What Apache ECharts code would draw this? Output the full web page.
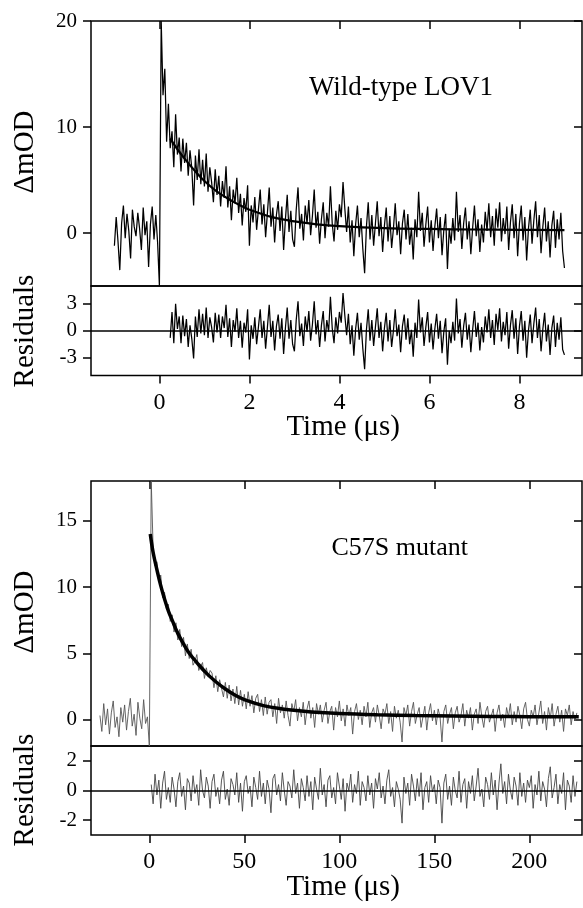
<!DOCTYPE html>
<html>
<head>
<meta charset="utf-8">
<script src="https://cdn.jsdelivr.net/npm/echarts@6.0.0/dist/echarts.min.js"></script>
<style>
  html, body { margin: 0; padding: 0; background: #fff; }
  #chart { width: 583px; height: 908px; }
</style>
</head>
<body>
<div id="chart"></div>
<script>
// ---- Wild-type LOV1: transient absorbance, sampled every 0.04 us from -1 us
const wtStart = -1.0;
const wtStep = 0.04;
const wtSignal = [
  -1.2, 1.5, -0.8, -3.5, 0.9, 2.6, -0.5, 1.8, 0.2, -2.4, 2.2, 0.6, -0.3, 1.9, 0.4, -1.6, 2.4, -0.2, 1.1, -3.2, 0.8, 2.5, -0.6, 1.7, -0.9,
  -5.0, 20.0, 13.0, 15.5, 8.6, 12.2, 8.0, 9.6, 6.2, 11.2, 7.4, 9.0, 5.8, 8.9, 6.6, 8.5, 5.4, 7.8, 6.1, 2.6, 7.3, 5.0, 7.9, 4.6, 6.9,
  4.4, 7.5, 3.9, 6.2, 4.8, 2.9, 6.0, 3.6, 5.4, 2.5, 4.9, 3.3, 6.3, 2.4, 4.4, 1.2, 4.1, 2.8, 5.2, 1.9, 3.7, 0.7, 3.3, 2.0, 4.5,
  -1.2, 2.6, 1.0, 3.4, 0.3, 2.2, 4.1, 0.8, 2.7, -0.4, 1.9, 4.3, 0.6, 2.4, -0.9, 1.7, 3.0, 0.2, 2.5, -1.6, 1.3, 3.6, 0.1, 2.1, -0.6,
  -1.3, 2.2, 4.3, 0.4, 1.8, -0.7, 2.6, 0.9, 3.1, -0.2, 1.6, 4.1, 0.5, 2.0, -1.0, 1.3, 2.9, -0.5, 1.9, 0.6, 4.4, 0.9, -0.8, 2.1, 0.3,
  2.7, 1.5, 4.8, 2.3, 0.1, 2.5, -0.9, 1.2, -2.2, 0.8, 2.6, -0.4, 1.4, -1.5, -3.8, 0.6, 2.9, -0.6, 1.7, -1.2, 0.9, 3.0, -0.3, 1.5, -1.8,
  0.7, 2.4, -0.8, 1.6, -1.4, 0.4, 2.8, -0.2, 1.1, -2.0, 0.9, 2.2, -0.6, 1.8, -1.1, 0.5, -2.5, 1.3, -0.4, 3.9, 0.2, 1.9, -1.3, 0.8, 2.5,
  -0.9, 1.2, -1.7, 0.6, 2.3, -0.5, 1.5, -2.1, 0.3, 1.8, -3.4, 0.4, -1.0, 1.4, -0.7, 3.9, 0.1, 1.7, -1.5, 0.9, 2.4, -0.6, 1.1, -2.0, 0.5,
  2.6, -0.3, 1.3, -1.8, 0.8, -0.9, 2.0, 0.2, 2.8, -0.4, 1.6, -1.2, 2.3, 0.5, 2.9, -0.8, 1.4, -0.1, 2.5, -1.6, 1.0, 2.7, -0.5, 1.8, -2.2,
  0.9, 2.6, -0.7, 1.5, -2.6, 0.4, 2.2, -1.0, 1.2, 3.0, -0.4, 1.7, -1.9, 0.6, 2.4, -0.8, 1.1, -2.3, 0.7, 2.1, -1.4, 1.3, -0.6, 1.9, -1.7, -3.3
];
// fitted decay (read at these times)
const wtFitT = [0.24, 0.4, 0.6, 0.8, 1.0, 1.25, 1.5, 1.75, 2.0, 2.5, 3.0, 3.5, 4.0, 5.0, 6.0, 7.0, 8.0, 9.0];
const wtFitV = [8.9, 7.9, 6.8, 5.8, 4.9, 4.0, 3.3, 2.7, 2.2, 1.5, 1.1, 0.82, 0.65, 0.46, 0.38, 0.33, 0.3, 0.28];
// residuals, every 0.04 us from 0.24 us
const wtResStart = 0.24;
const wtResidual = [
  -0.8, 2.1, -1.4, 3.0, 0.2, 1.6, -1.4, 1.7, -0.6, 1.3, -1.8, 0.6, -0.9, -3.1, 1.6, -0.7, 2.4, -0.3, 1.9,
  -0.5, 2.6, -0.8, 1.5, 0.4, -1.3, 2.0, -0.2, 1.8, -0.8, 1.6, 0.3, 2.9, -0.7, 1.4, -1.8, 1.2, -0.1, 2.5, -0.8, 1.1, -1.9, 0.9, -0.2, 2.4,
  -3.2, 0.6, -0.9, 1.5, -1.5, 0.4, 2.4, -0.8, 1.1, -2.0, 0.4, 2.9, -0.7, 1.1, -2.2, 0.5, 1.8, -0.9, 1.4, -2.6, 0.3, 2.6, -0.9, 1.2, -1.5,
  -2.3, 1.2, 3.3, -0.6, 0.8, -1.7, 1.6, -0.1, 2.2, -1.1, 0.7, 3.3, -0.4, 1.2, -1.8, 0.6, 2.2, -1.2, 1.2, -0.1, 3.8, 0.3, -1.4, 1.5, -0.3,
  2.1, 0.9, 4.2, 1.7, -0.5, 1.9, -1.5, 0.6, -2.8, 0.2, 2.0, -1.0, 0.9, -2.0, -4.3, 0.1, 2.4, -1.1, 1.2, -1.7, 0.4, 2.5, -0.8, 1.0, -2.3,
  0.3, 2.0, -1.2, 1.2, -1.8, 0.0, 2.4, -0.6, 0.7, -2.4, 0.5, 1.8, -1.0, 1.4, -1.5, 0.1, -2.9, 0.9, -0.8, 3.5, -0.2, 1.5, -1.7, 0.4, 2.1,
  -1.3, 0.8, -2.1, 0.2, 1.9, -0.9, 1.1, -2.5, -0.1, 1.4, -3.8, 0.0, -1.4, 1.0, -1.1, 3.6, -0.3, 1.3, -1.9, 0.5, 2.0, -1.0, 0.7, -2.4, 0.1,
  2.2, -0.7, 0.9, -2.2, 0.4, -1.3, 1.6, -0.2, 2.4, -0.8, 1.2, -1.6, 1.9, 0.1, 2.5, -1.2, 1.0, -0.5, 2.1, -2.0, 0.6, 2.3, -0.9, 1.4, -2.6,
  0.5, 2.2, -1.1, 1.1, -3.0, 0.0, 1.8, -1.4, 0.8, 2.6, -0.8, 1.3, -2.3, 0.2, 2.0, -1.2, 0.7, -2.7, 0.3, 1.7, -1.8, 0.9, -1.0, 1.5, -2.1, -2.7
];

// ---- C57S mutant: sampled every 1 us from -26 us
const mutStart = -26;
const mutStep = 1;
const mutSignal = [
  0.3, -0.9, 1.2, -0.4, 0.8, -1.1, 0.5, 1.4, -0.6, 0.2, -1.3, 0.9, -0.2, 1.1, -0.8, 0.6, 1.6, -0.5, 0.4, -1.2, 1.3, 0.1, -0.7, 1.5, -0.3, 0.2,
  -2.0, 18.0,
  12.9, 11.6, 11.9, 10.4, 10.9, 9.2, 9.6, 8.3, 8.7, 7.4,
  7.9, 6.6, 7.3, 6.0, 6.8, 5.5, 6.2, 4.8, 5.7, 4.6,
  5.3, 4.1, 4.4, 4.9, 3.7, 3.6, 4.3, 3.1, 3.9, 3.2,
  3.7, 3.5, 2.4, 3.3, 2.1, 3.0, 2.9, 1.7, 2.8, 1.6,
  2.6, 1.4, 2.3, 1.2, 2.5, 1.1, 2.2, 1.0, 1.9, 0.8,
  2.1, 1.0, 1.8, 0.5, 1.6, 1.9, 0.6, 1.5, 0.3, 1.7,
  0.4, 1.3, 1.5, 0.2, 1.2, -0.3, 1.6, 0.5, 1.1, 0.1,
  1.4, 0.3, -0.5, 1.2, 0.6, 1.5, -0.1, 0.9, 0.2, 1.3,
  -0.4, 0.8, 1.4, 0.1, 0.9, -0.6, 1.2, 0.4, 1.1, -0.2,
  0.7, 1.3, -0.3, 0.6, 1.0, -0.8, 0.9, 0.2, 1.4, -0.1,
  0.8, -0.5, 1.1, 0.3, 0.9, -1.1, 0.6, 1.2, 0.0, 0.7,
  -0.4, 1.0, 0.2, 1.3, -0.6, 0.5, 0.9, -0.2, 1.1, 0.3,
  -0.7, 0.8, 0.4, 1.2, -0.3, 0.6, -0.9, 1.0, 0.1, 0.7,
  -0.2, -1.7, 0.9, 0.3, 1.1, -0.5, 0.6, 1.3, -0.3, 0.4,
  0.9, -0.6, 0.2, 1.0, -0.8, 0.5, 1.2, -0.1, 0.7, -0.4,
  0.8, 0.2, -1.7, 0.6, 1.1, -0.3, 0.4, 0.9, -0.7, 0.5,
  1.0, -0.2, 0.3, 1.2, -0.5, 0.7, 0.1, 0.9, -0.8, 0.4,
  0.8, -0.3, 1.3, 0.2, -0.6, 0.6, 1.0, -0.2, 0.3, 0.8,
  -0.9, 0.5, 1.1, -0.1, 0.4, -0.6, 0.9, 0.2, 1.2, -0.4,
  0.6, -0.2, 1.0, 0.3, -0.7, 0.8, 1.3, 0.0, -0.5, 0.7,
  0.2, 1.1, -0.4, 0.5, 1.4, -0.3, 0.6, -0.8, 0.9, 0.1,
  1.2, -0.5, 0.4, 1.0, -0.2, 0.7, -0.9, 0.8, 0.3, 1.1,
  -0.4, 0.6, -0.1, 0.5
];
const mutFitT = [0.5, 2, 4, 6, 8, 10, 12, 15, 18, 21, 25, 30, 35, 40, 45, 50, 60, 70, 80, 90, 100, 120, 140, 160, 180, 200, 226];
const mutFitV = [14.0, 12.6, 11.3, 10.1, 9.1, 8.2, 7.5, 6.5, 5.7, 5.0, 4.3, 3.5, 2.85, 2.3, 1.85, 1.5, 1.05, 0.8, 0.65, 0.53, 0.45, 0.36, 0.3, 0.26, 0.23, 0.21, 0.2];
// residuals every 1 us from 1 us
const mutResStart = 1;
const mutResidual = [
  0.4, -0.9, 1.1, -0.3, 0.7, -1.2, 0.5, 1.3, -0.6, 0.2,
  -0.8, 0.9, 0.1, -1.1, 0.6, 1.2, -0.4, 0.3, -1.3, 0.8,
  0.5, -0.7, 1.0, -0.2, 0.4, -1.0, 1.4, 0.0, -0.5, 0.9,
  0.3, -1.2, 0.6, 1.1, -0.4, 0.2, -0.9, 0.7, 1.3, -0.6,
  0.1, -1.0, 0.8, 0.4, -0.3, 1.2, -0.8, 0.5, -1.4, 0.6,
  1.0, -0.2, 0.3, -1.1, 0.9, 0.2, -0.6, 1.3, -0.4, 0.5,
  -0.9, 0.7, 0.1, -1.5, 0.8, 1.1, -0.3, 0.4, -0.7, 1.2,
  0.0, -1.0, 0.6, 0.3, -0.5, 1.4, -0.2, 0.5, -1.2, 0.8,
  0.2, -0.7, 1.0, -0.4, 0.6, -1.3, 0.9, 0.1, -0.6, 1.5,
  -0.3, 0.4, -1.1, 0.7, 1.0, -0.5, 0.2, -0.9, 1.2, 0.3,
  -0.6, 0.8, -1.4, 0.5, 0.0, 1.1, -0.8, 0.4, -0.2, 1.3,
  -1.0, 0.6, 0.2, -0.7, 1.0, -0.3, 0.5, -1.2, 0.8, 0.1,
  1.2, -0.5, 0.3, -0.9, 0.7, 1.4, -0.4, 0.2, -1.1, 0.6,
  0.1, -0.6, -2.2, 0.9, -0.2, 0.5, -1.0, 1.1, 0.3, -0.7,
  0.8, -0.4, 1.2, -1.3, 0.2, 0.6, -0.8, 1.0, -0.1, 0.4,
  -0.9, 0.7, 0.2, -2.2, 0.5, 1.1, -0.6, 0.3, -1.0, 0.9,
  0.0, -0.5, 1.3, -0.8, 0.4, 0.8, -1.2, 0.6, -0.2, 1.0,
  -0.7, 0.3, 1.5, -0.4, 0.1, -1.1, 0.9, 0.4, -0.6, 1.2,
  -0.3, 0.7, -1.3, 0.5, 1.8, -0.2, 0.6, -0.9, 1.1, 0.0,
  -0.6, 0.9, 0.3, -1.0, 1.2, -0.4, 0.5, -0.8, 0.7, 0.2,
  1.0, -1.2, 0.4, -0.3, 1.3, -0.7, 0.6, 0.1, -1.1, 0.8,
  1.6, -0.5, 0.2, 1.1, -0.9, 0.4, -0.2, 1.2, -1.3, 0.7,
  0.3, -0.8, 1.0, -0.4, 0.6
];

// tick values
const wtTimeTicks = [0, 2, 4, 6, 8];
const wtOdTicks = [0, 10, 20];
const wtResTicks = [-3, 0, 3];
const mutTimeTicks = [0, 50, 100, 150, 200];
const mutOdTicks = [0, 5, 10, 15];
const mutResTicks = [-2, 0, 2];

const FONT = 'Liberation Serif';
const sampled = (start, step, vals) => vals.map((v, i) => [+(start + i * step).toFixed(3), v]);
const zip = (ts, vs) => ts.map((t, i) => [t, vs[i]]);

const tickStyle = { color: '#000', width: 1.5 };

function xAxis(grid, min, max, pos, ticks, inside, labels) {
  return {
    type: 'value', gridIndex: grid, position: pos, min: min, max: max,
    axisLine: { show: false, onZero: false },
    splitLine: { show: false },
    axisTick: { show: ticks.length > 0, inside: inside, length: 8, customValues: ticks, lineStyle: tickStyle },
    axisLabel: { show: labels, customValues: ticks, margin: 15, fontFamily: FONT, fontSize: 24, color: '#000' }
  };
}
function yAxis(grid, min, max, pos, ticks, inside, labels) {
  return {
    type: 'value', gridIndex: grid, position: pos, min: min, max: max,
    axisLine: { show: false, onZero: false },
    splitLine: { show: false },
    axisTick: { show: true, inside: inside, length: 8, customValues: ticks, lineStyle: tickStyle },
    axisLabel: { show: labels, customValues: ticks, margin: 14, fontFamily: FONT, fontSize: 21, color: '#000' }
  };
}

const gridBase = { left: 91, width: 491, show: true, borderColor: '#000', borderWidth: 1.5, containLabel: false, outerBoundsMode: 'none' };
const zeroLine = {
  silent: true, symbol: ['none', 'none'], label: { show: false }, animation: false,
  lineStyle: { color: '#000', width: 1.5, type: 'solid' },
  data: [{ yAxis: 0 }]
};

const chart = echarts.init(document.getElementById('chart'), null, { renderer: 'canvas' });
chart.setOption({
  backgroundColor: '#fff',
  animation: false,
  grid: [
    Object.assign({ top: 21, height: 265 }, gridBase),
    Object.assign({ top: 286, height: 89.5 }, gridBase),
    Object.assign({ top: 481, height: 265 }, gridBase),
    Object.assign({ top: 746, height: 89 }, gridBase)
  ],
  xAxis: [
    xAxis(0, -1.52, 9.39, 'bottom', [], false, false),
    xAxis(0, -1.52, 9.39, 'top', wtTimeTicks, true, false),
    xAxis(1, -1.52, 9.39, 'bottom', wtTimeTicks, false, true),
    xAxis(2, -30.7, 227.7, 'bottom', [], false, false),
    xAxis(2, -30.7, 227.7, 'top', mutTimeTicks, true, false),
    xAxis(3, -30.7, 227.7, 'bottom', mutTimeTicks, false, true)
  ],
  yAxis: [
    yAxis(0, -5, 20, 'left', wtOdTicks, false, true),
    yAxis(0, -5, 20, 'right', wtOdTicks, true, false),
    yAxis(1, -5, 5, 'left', wtResTicks, false, true),
    yAxis(1, -5, 5, 'right', wtResTicks, true, false),
    yAxis(2, -2, 18, 'left', mutOdTicks, false, true),
    yAxis(2, -2, 18, 'right', mutOdTicks, true, false),
    yAxis(3, -3, 3, 'left', mutResTicks, false, true),
    yAxis(3, -3, 3, 'right', mutResTicks, true, false)
  ],
  series: [
    { type: 'line', xAxisIndex: 0, yAxisIndex: 0, data: sampled(wtStart, wtStep, wtSignal), symbol: 'none', silent: true,
      lineStyle: { color: '#000', width: 1.25 } },
    { type: 'line', xAxisIndex: 0, yAxisIndex: 0, data: zip(wtFitT, wtFitV), symbol: 'none', silent: true, smooth: 0.4,
      lineStyle: { color: '#000', width: 2.2 } },
    { type: 'line', xAxisIndex: 2, yAxisIndex: 2, data: sampled(wtResStart, wtStep, wtResidual), symbol: 'none', silent: true,
      lineStyle: { color: '#000', width: 1.25 }, markLine: zeroLine },
    { type: 'line', xAxisIndex: 3, yAxisIndex: 4, data: sampled(mutStart, mutStep, mutSignal), symbol: 'none', silent: true,
      lineStyle: { color: '#555', width: 0.9 } },
    { type: 'line', xAxisIndex: 3, yAxisIndex: 4, data: zip(mutFitT, mutFitV), symbol: 'none', silent: true, smooth: 0.4,
      lineStyle: { color: '#000', width: 3.5 } },
    { type: 'line', xAxisIndex: 5, yAxisIndex: 6, data: sampled(mutResStart, mutStep, mutResidual), symbol: 'none', silent: true,
      lineStyle: { color: '#444', width: 0.9 }, markLine: zeroLine }
  ],
  graphic: [
    { type: 'text', x: 25, y: 152, rotation: Math.PI / 2, style: { text: 'ΔmOD', font: '29px "Liberation Serif"', fill: '#000', align: 'center', verticalAlign: 'middle' } },
    { type: 'text', x: 25, y: 331, rotation: Math.PI / 2, style: { text: 'Residuals', font: '29px "Liberation Serif"', fill: '#000', align: 'center', verticalAlign: 'middle' } },
    { type: 'text', x: 25, y: 612, rotation: Math.PI / 2, style: { text: 'ΔmOD', font: '29px "Liberation Serif"', fill: '#000', align: 'center', verticalAlign: 'middle' } },
    { type: 'text', x: 25, y: 790, rotation: Math.PI / 2, style: { text: 'Residuals', font: '29px "Liberation Serif"', fill: '#000', align: 'center', verticalAlign: 'middle' } },
    { type: 'text', x: 400, y: 427, style: { text: 'Time (μs)', font: '29px "Liberation Serif"', fill: '#000', align: 'right', verticalAlign: 'middle' } },
    { type: 'text', x: 400, y: 887, style: { text: 'Time (μs)', font: '29px "Liberation Serif"', fill: '#000', align: 'right', verticalAlign: 'middle' } },
    { type: 'text', x: 493, y: 88, style: { text: 'Wild-type LOV1', font: '27px "Liberation Serif"', fill: '#000', align: 'right', verticalAlign: 'middle' } },
    { type: 'text', x: 468, y: 548, style: { text: 'C57S mutant', font: '26px "Liberation Serif"', fill: '#000', align: 'right', verticalAlign: 'middle' } }
  ]
});
</script>
</body>
</html>
